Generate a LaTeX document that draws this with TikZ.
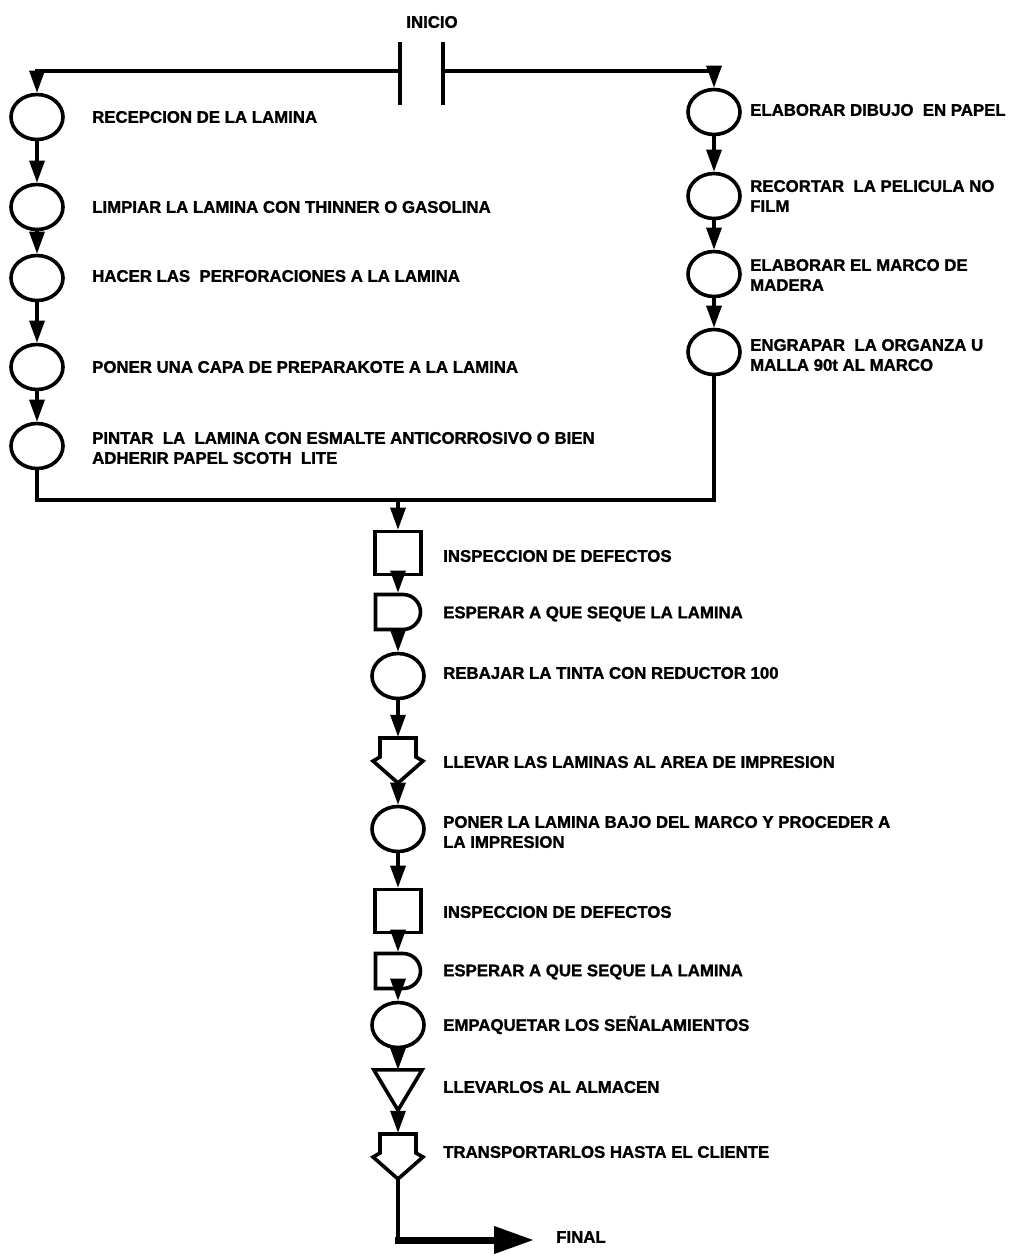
\documentclass[tikz,border=0pt]{standalone}
\usepackage{fontspec}
\setmainfont{Liberation Sans}[BoldFeatures={FakeBold=1.4}]
\usetikzlibrary{arrows.meta,shapes.misc,shapes.geometric}
\tikzset{
  oper/.style={ellipse,draw,line width=3.6pt,minimum width=52pt,minimum height=45pt,inner sep=0pt},
  insp/.style={rectangle,draw,line width=3.6pt,minimum width=46pt,minimum height=43pt,inner sep=0pt},
  delay/.style={rounded rectangle,rounded rectangle west arc=none,draw,line width=3.6pt,minimum width=45pt,minimum height=35pt,inner sep=0pt},
  box/.style={rectangle,draw=none,inner sep=0pt},
  shp/.style={line width=3.6pt,line join=miter},
  conn/.style={line width=3.2pt,-{Triangle[length=22pt,width=15pt]}},
  plain/.style={line width=3.2pt},
  lbl/.style={anchor=west,align=left,inner sep=0pt,font=\fontsize{16.8}{20}\selectfont\bfseries},
}
\begin{document}
\begin{tikzpicture}[x=1pt,y=-1pt]
\useasboundingbox (0,0) rectangle (1012,1256);
% start
\node[lbl,anchor=center] (inicio) at (432,22) {INICIO};
\draw[line width=3.8pt] (400,42) -- (400,105);
\draw[line width=3.8pt] (443,42) -- (443,105);
\coordinate (barL) at (400,71);
\coordinate (barR) at (443,71);
% left column
\node[oper] (L1) at (37,117) {};
\node[oper] (L2) at (37,207) {};
\node[oper] (L3) at (37,278) {};
\node[oper] (L4) at (37,367) {};
\node[oper] (L5) at (37,446) {};
\node[lbl] (tL1) at (92,117) {RECEPCION DE LA LAMINA};
\node[lbl] (tL2) at (92,207) {LIMPIAR LA LAMINA CON THINNER O GASOLINA};
\node[lbl] (tL3) at (92,276) {HACER LAS\ \ PERFORACIONES A LA LAMINA};
\node[lbl] (tL4) at (92,367) {PONER UNA CAPA DE PREPARAKOTE A LA LAMINA};
\node[lbl] (tL5) at (92,448) {PINTAR\ \ LA\ \ LAMINA CON ESMALTE ANTICORROSIVO O BIEN\\ADHERIR PAPEL SCOTH\ \ LITE};
% right column
\node[oper] (R1) at (714,112) {};
\node[oper] (R2) at (714,196) {};
\node[oper] (R3) at (714,274) {};
\node[oper] (R4) at (714,352) {};
\node[lbl] (tR1) at (750,110) {ELABORAR DIBUJO\ \ EN PAPEL};
\node[lbl] (tR2) at (750,196) {RECORTAR\ \ LA PELICULA NO\\FILM};
\node[lbl] (tR3) at (750,275) {ELABORAR EL MARCO DE\\MADERA};
\node[lbl] (tR4) at (750,355) {ENGRAPAR\ \ LA ORGANZA U\\MALLA 90t AL MARCO};
% connectors top
\draw[conn] (barL) -| (L1.north);
\draw[conn] (barR) -| (R1.north);
\draw[conn] (L1) -- (L2);
\draw[conn] (L2) -- (L3);
\draw[conn] (L3) -- (L4);
\draw[conn] (L4) -- (L5);
\draw[conn] (R1) -- (R2);
\draw[conn] (R2) -- (R3);
\draw[conn] (R3) -- (R4);
\coordinate (merge) at (398,500);
\draw[plain] (L5.south) |- (merge) -| (R4.south);
% middle column
\node[insp] (M1) at (398,553) {};
\node[delay] (M2) at (398,612) {};
\node[oper] (M3) at (398,676) {};
\node[box,minimum width=50pt,minimum height=46pt] (M4) at (398,760) {};
\draw[shp] ([shift={(-18,-22)}]M4.center) -- ([shift={(18,-22)}]M4.center) -- ([shift={(18,-3)}]M4.center) -- ([shift={(25,1)}]M4.center) -- ([shift={(0,23)}]M4.center) -- ([shift={(-25,1)}]M4.center) -- ([shift={(-18,-3)}]M4.center) -- cycle;
\node[oper] (M5) at (398,829) {};
\node[insp] (M6) at (398,911) {};
\node[delay] (M7) at (398,971) {};
\node[oper] (M8) at (398,1025) {};
\node[box,minimum width=48pt,minimum height=40pt] (M9) at (398,1090) {};
\draw[shp] (M9.north west) -- (M9.north east) -- (M9.south) -- cycle;
\node[box,minimum width=50pt,minimum height=46pt] (M10) at (398,1156) {};
\draw[shp] ([shift={(-18,-22)}]M10.center) -- ([shift={(18,-22)}]M10.center) -- ([shift={(18,-3)}]M10.center) -- ([shift={(25,1)}]M10.center) -- ([shift={(0,23)}]M10.center) -- ([shift={(-25,1)}]M10.center) -- ([shift={(-18,-3)}]M10.center) -- cycle;
\node[lbl] (tM1) at (443,556) {INSPECCION DE DEFECTOS};
\node[lbl] (tM2) at (443,614) {ESPERAR A QUE SEQUE LA LAMINA};
\node[lbl] (tM3) at (443,673) {REBAJAR LA TINTA CON REDUCTOR 100};
\node[lbl] (tM4) at (443,762) {LLEVAR LAS LAMINAS AL AREA DE IMPRESION};
\node[lbl] (tM5) at (443,832) {PONER LA LAMINA BAJO DEL MARCO Y PROCEDER A\\LA IMPRESION};
\node[lbl] (tM6) at (443,912) {INSPECCION DE DEFECTOS};
\node[lbl] (tM7) at (443,972) {ESPERAR A QUE SEQUE LA LAMINA};
\node[lbl] (tM8) at (443,1025) {EMPAQUETAR LOS SEÑALAMIENTOS};
\node[lbl] (tM9) at (443,1087) {LLEVARLOS AL ALMACEN};
\node[lbl] (tM10) at (443,1152) {TRANSPORTARLOS HASTA EL CLIENTE};
\node[lbl] (fin) at (556,1237) {FINAL};
\draw[conn] (merge) -- (M1);
\draw[conn] (M1) -- (M2);
\draw[conn] (M2) -- (M3);
\draw[conn] (M3) -- (M4);
\draw[conn] (M4) -- (M5);
\draw[conn] (M5) -- (M6);
\draw[conn] (M6) -- (M7);
\draw[conn] (M7) -- (M8);
\draw[conn] (M8) -- (M9);
\draw[conn] (M9) -- (M10);
\coordinate (corner) at (398,1240);
\coordinate (tip) at (534,1240);
\draw[plain] (M10.south) -- ([yshift=3.5pt]corner);
\draw[line width=7pt,-{Triangle[length=40pt,width=26pt]}] ([xshift=-3pt]corner) -- (tip);
\end{tikzpicture}
\end{document}
